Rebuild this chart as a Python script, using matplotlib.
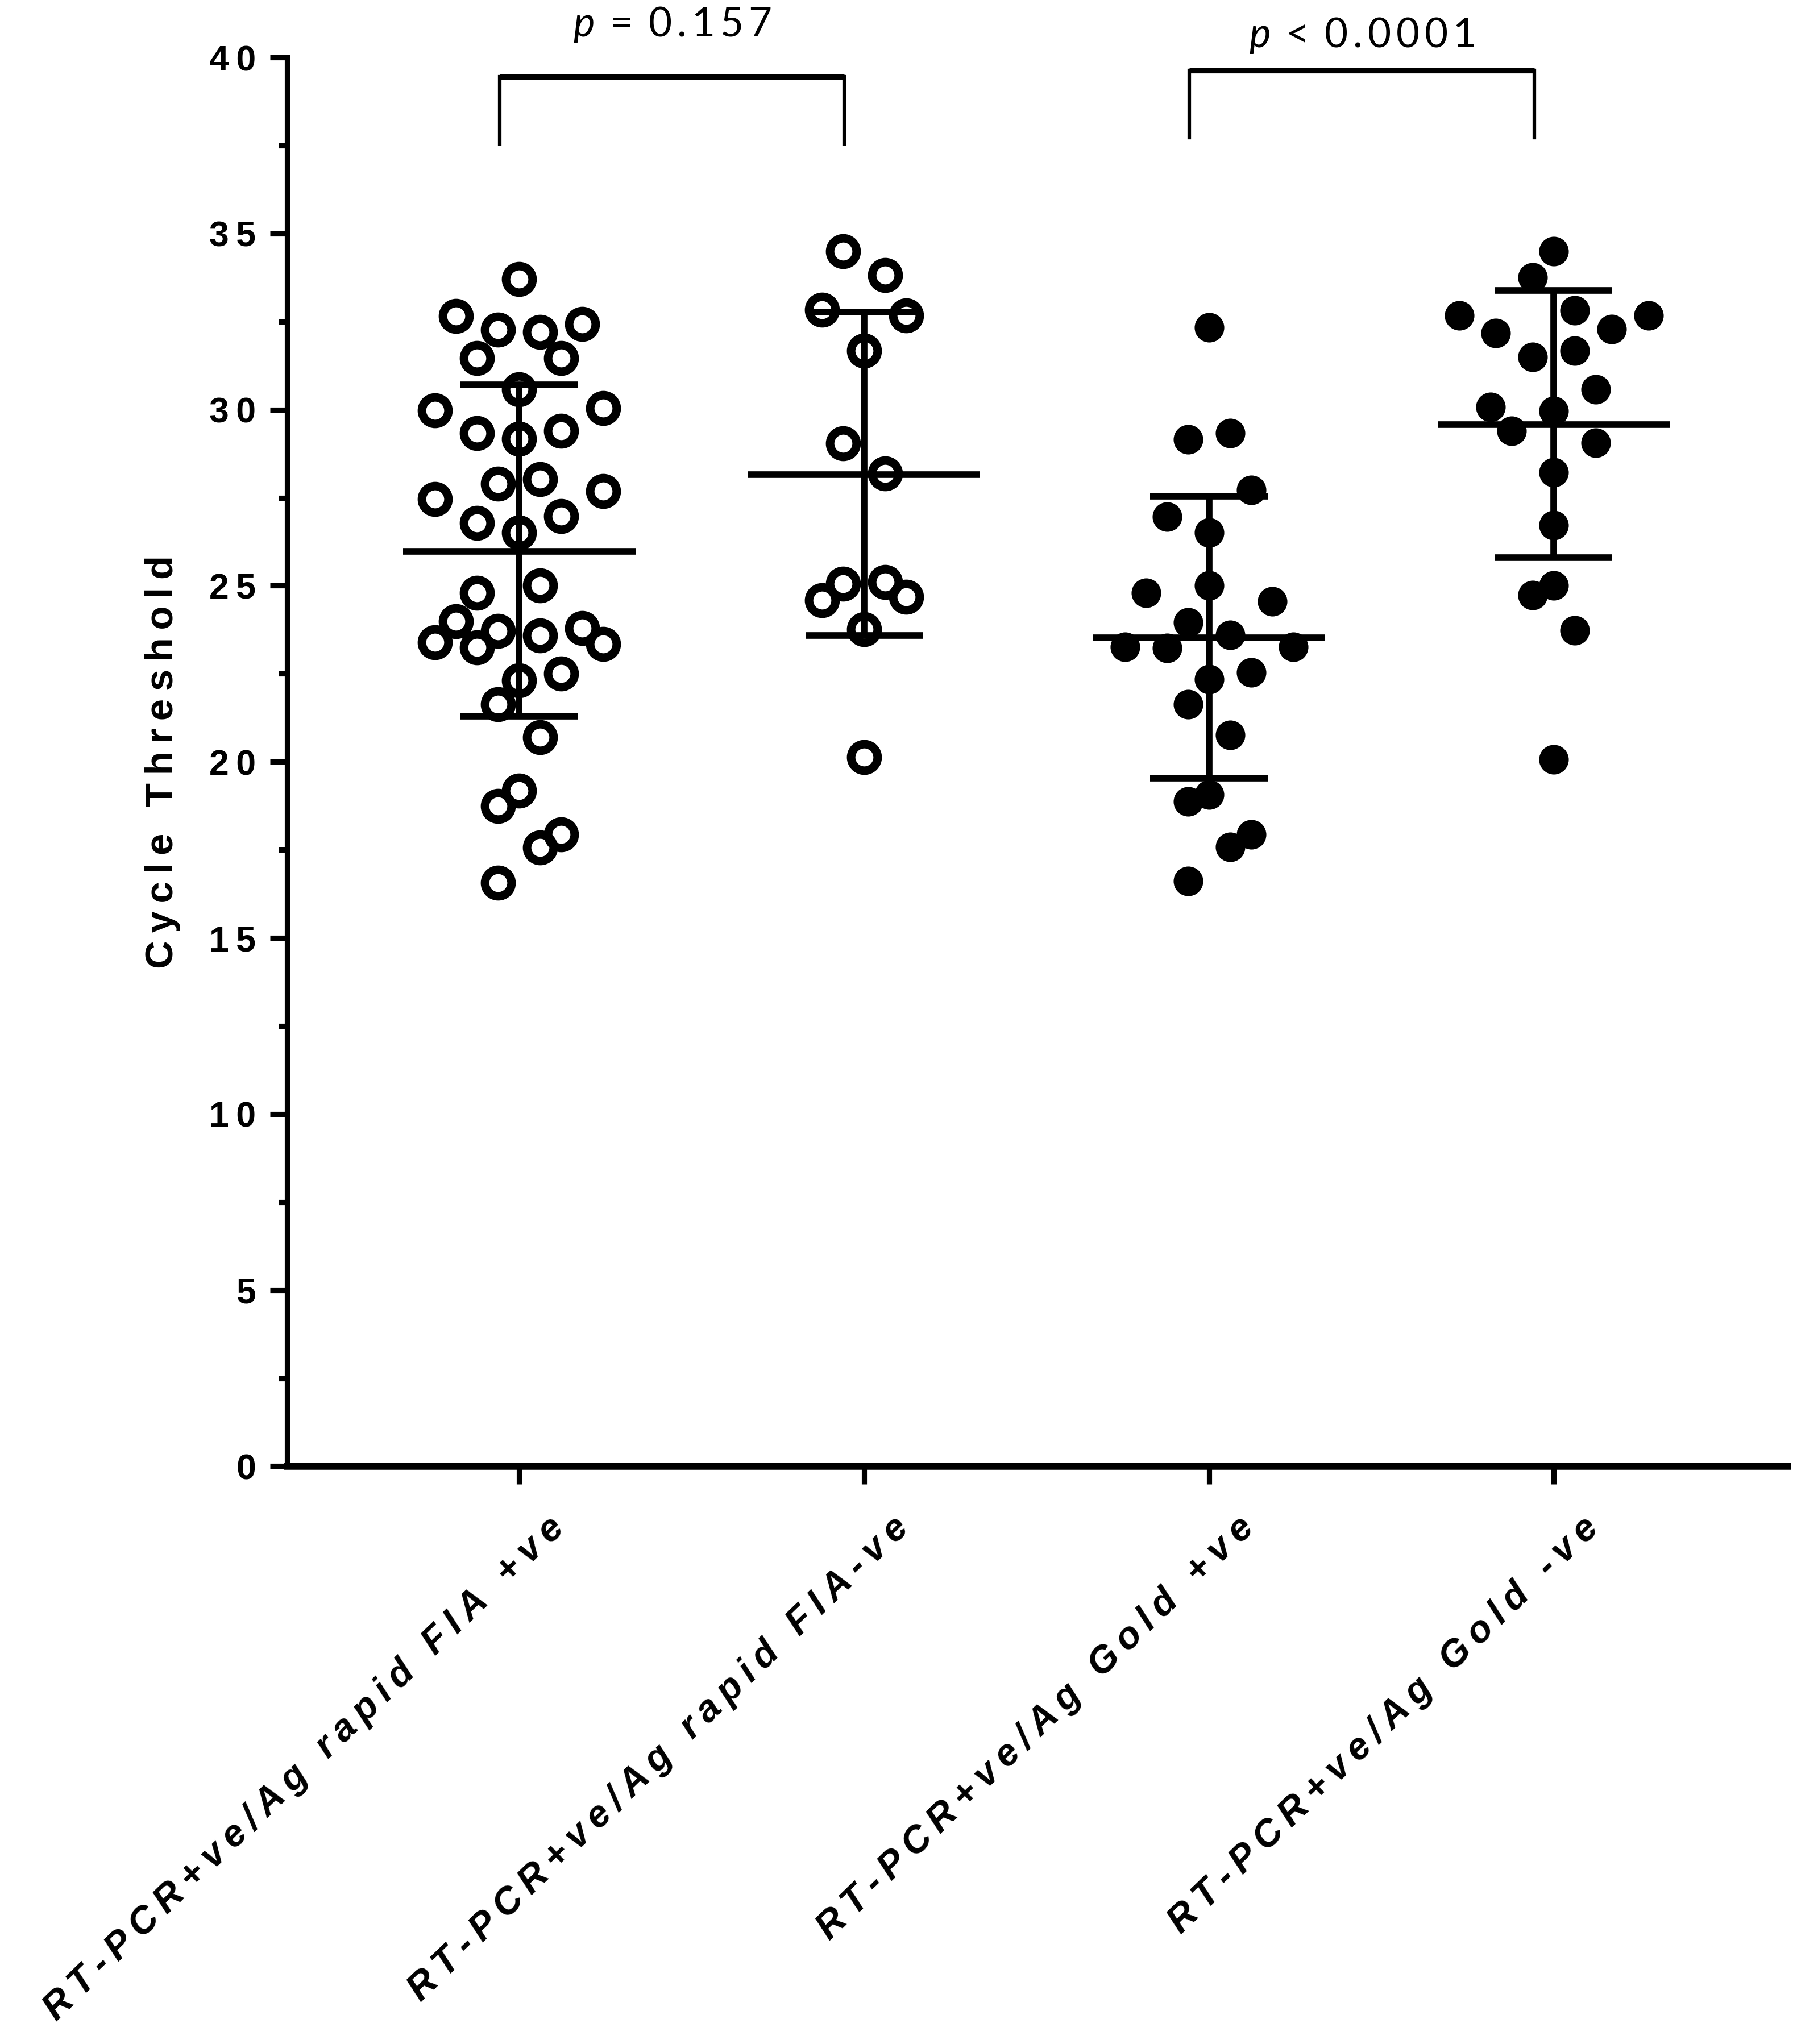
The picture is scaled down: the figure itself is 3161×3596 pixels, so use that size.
import numpy as np
import matplotlib.pyplot as plt
from matplotlib.ticker import MultipleLocator
from matplotlib.transforms import ScaledTranslation

plt.rcParams['font.family'] = ['Liberation Sans', 'DejaVu Sans']
plt.rcParams['mathtext.fontset'] = 'custom'
plt.rcParams['mathtext.it'] = 'Lato:italic'
plt.rcParams['mathtext.rm'] = 'Lato'

# categories on the x axis
groups = ['RT-PCR+ve/Ag rapid FIA +ve', 'RT-PCR+ve/Ag rapid FIA-ve',
          'RT-PCR+ve/Ag Gold +ve', 'RT-PCR+ve/Ag Gold -ve']

# Ct value of every dot and the column it sits in
fia_pos = [33.71, 32.65, 32.27, 32.21, 32.43, 31.47, 31.47, 30.57, 29.98, 30.04,
           29.33, 29.17, 29.39, 27.90, 28.02, 27.46, 27.68, 26.78, 26.51, 26.97,
           25.01, 24.80, 23.99, 23.40, 23.24, 23.71, 23.59, 23.80, 23.34, 22.50,
           22.31, 21.63, 20.70, 19.18, 18.74, 17.94, 17.57, 16.57]
fia_pos_col = [0, -3, -1, 1, 3, -2, 2, 0, -4, 4,
               -2, 0, 2, -1, 1, -4, 4, -2, 0, 2,
               1, -2, -3, -4, -2, -1, 1, 3, 4, 2,
               0, -1, 1, 0, -1, 2, 1, -1]

fia_neg = [34.50, 33.82, 32.83, 32.67, 31.68, 29.04, 28.18,
           25.06, 24.58, 25.11, 24.68, 23.77, 20.14]
fia_neg_col = [-1, 1, -2, 2, 0, -1, 1, -1, -2, 1, 2, 0, 0]

gold_pos = [32.34, 29.15, 29.34, 27.72, 26.96, 26.51, 25.01, 24.80, 24.56, 23.96,
            23.60, 23.26, 23.23, 23.26, 22.34, 22.53, 21.64, 20.76, 19.06, 18.87,
            17.93, 17.58, 16.61]
gold_pos_col = [0, -1, 1, 2, -2, 0, 0, -3, 3, -1,
                1, -4, -2, 4, 0, 2, -1, 1, 0, -1,
                2, 1, -1]

gold_neg = [34.50, 33.76, 32.68, 32.68, 32.82, 32.17, 32.28, 31.49, 31.68, 30.58,
            30.07, 29.96, 29.39, 29.05, 28.22, 26.72, 25.01, 24.73, 23.73, 20.07]
gold_neg_col = [0, -1, -4.5, 4.5, 1, -2.75, 2.75, -1, 1, 2,
                -3, 0, -2, 2, 0, 0, 0, -1, 1, 0]

# mean and mean +/- SD lines
means = [25.97, 28.15, 23.52, 29.58]
sd_hi = [30.70, 32.77, 27.54, 33.39]
sd_lo = [21.29, 23.58, 19.53, 25.79]

# comparisons
pairs = [(0, 1), (2, 3)]
p_labels = ['= 0.157', '< 0.0001']


def spaced(s, gap='\u2009'):
    # the original uses loose letter spacing
    return gap.join(s)


values = [fia_pos, fia_neg, gold_pos, gold_neg]
cols = [fia_pos_col, fia_neg_col, gold_pos_col, gold_neg_col]
filled = [False, False, True, True]

col_step = 0.061
mean_half = 0.337
cap_half = 0.17
lw = 2.8

fig = plt.figure(figsize=(3162 / 300, 3596 / 300), dpi=300)
ax = fig.add_axes([0.1597, 0.2827, 0.8346, 0.6892])

for i, (v, c, f) in enumerate(zip(values, cols, filled)):
    x = i + np.array(c) * col_step
    if f:
        ax.plot(x, v, 'o', ms=12.0, mfc='black', mec='black', mew=0.5, zorder=3)
    else:
        ax.plot(x, v, 'o', ms=11.2, mfc='none', mec='black', mew=3.6, zorder=3)

pos = np.arange(len(groups))
ax.hlines(means, pos - mean_half, pos + mean_half, color='black', lw=lw, zorder=4)
ax.hlines(sd_hi, pos - cap_half, pos + cap_half, color='black', lw=lw, zorder=4)
ax.hlines(sd_lo, pos - cap_half, pos + cap_half, color='black', lw=lw, zorder=4)
ax.vlines(pos, sd_lo, sd_hi, color='black', lw=lw, zorder=4)

# significance brackets
br_top = [39.45, 39.63]
br_leg = [37.54, 37.73]
txt_y = [40.59, 40.29]
shift = -0.057
for (a, b), lab, top, leg, ty in zip(pairs, p_labels, br_top, br_leg, txt_y):
    xa, xb = a + shift, b + shift
    ax.plot([xa, xb], [top, top], color='black', lw=2.2, clip_on=False,
            solid_capstyle='butt')
    ax.plot([xa, xa], [top, leg], color='black', lw=1.5, clip_on=False)
    ax.plot([xb, xb], [top, leg], color='black', lw=1.5, clip_on=False)
    sign, num = lab.split(' ')
    ax.text((xa + xb) / 2, ty, '$p$\u2009 ' + sign + ' \u2009' + spaced(num),
            ha='center', va='baseline', fontsize=17,
            family=['Lato', 'DejaVu Sans'], clip_on=False)

ax.set_xlim(-0.673, 3.677)
ax.set_ylim(0, 40)

for side in ['top', 'right']:
    ax.spines[side].set_visible(False)
ax.spines['left'].set_linewidth(2.2)
ax.spines['bottom'].set_linewidth(3.0)

yt = np.arange(0, 41, 5)
ax.set_yticks(yt)
ax.set_yticklabels([spaced(str(t)) for t in yt], fontsize=15, fontweight='bold')
ax.yaxis.set_minor_locator(MultipleLocator(2.5))
ax.tick_params(axis='y', which='major', length=7.2, width=2.2, pad=6)
ax.tick_params(axis='y', which='minor', length=3.6, width=2.2)

ax.set_xticks(pos)
ax.set_xticklabels([spaced(g) for g in groups], fontsize=16, fontweight='bold',
                   fontstyle='italic', rotation=44, ha='right', va='top',
                   rotation_mode='anchor')
ax.tick_params(axis='x', which='major', length=7.7, width=2.2, pad=11)
offset = ScaledTranslation(48 / 300, 0, fig.dpi_scale_trans)
for lab in ax.get_xticklabels():
    lab.set_transform(lab.get_transform() + offset)

ax.set_ylabel(spaced('Cycle Threshold'), fontsize=16.5, fontweight='bold', labelpad=12)

fig.savefig('out.png', dpi=300)
